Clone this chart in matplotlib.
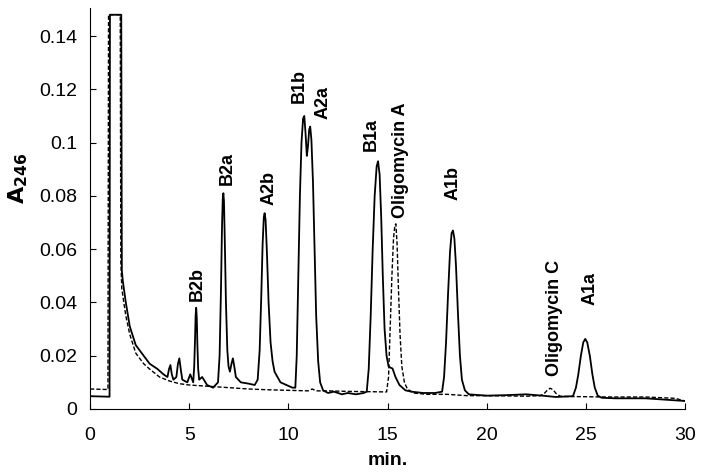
import matplotlib.pyplot as plt

plt.rcParams['font.family'] = ['Liberation Sans', 'DejaVu Sans']

# solid trace: sample chromatogram (time [min], A246)
t_solid = [0.0, 0.5, 0.98, 1.0, 1.57, 1.6, 1.65, 1.8, 2.0, 2.3, 2.7, 3.0, 3.4, 3.7, 3.9,
           3.98, 4.05, 4.12, 4.2, 4.35, 4.43, 4.5, 4.57, 4.65, 4.9, 5.05, 5.2,
           5.25, 5.29, 5.32, 5.35, 5.38, 5.41, 5.45, 5.5, 5.65, 5.9, 6.2, 6.45,
           6.53, 6.6, 6.65, 6.69, 6.72, 6.75, 6.79, 6.85, 6.92, 6.98, 7.05, 7.13, 7.2,
           7.27, 7.35, 7.6, 8.0, 8.3, 8.45,
           8.55, 8.63, 8.7, 8.76, 8.8, 8.85, 8.92, 9.0, 9.1, 9.2, 9.3, 9.45, 9.6, 9.9,
           10.2, 10.35, 10.42, 10.5, 10.58, 10.66, 10.74, 10.8, 10.86, 10.93, 10.98,
           11.05, 11.1, 11.16, 11.24, 11.32, 11.4, 11.5, 11.6, 11.75, 12.0, 12.3, 12.7,
           13.0, 13.4, 13.8, 13.95,
           14.05, 14.15, 14.25, 14.35, 14.45, 14.52, 14.6, 14.68, 14.76, 14.85, 14.95,
           15.05, 15.15, 15.25, 15.4, 15.6, 15.9, 16.2, 16.8, 17.4, 17.75,
           17.85, 17.95, 18.05, 18.15, 18.23, 18.3, 18.37, 18.45, 18.55, 18.65, 18.75,
           18.9, 19.1, 20.0, 21.0, 22.0, 22.8, 23.5, 24.35,
           24.5, 24.62, 24.75, 24.87, 24.97, 25.07, 25.2, 25.33, 25.45, 25.6, 25.8,
           26.5, 28.0, 29.0, 30.0]
a_solid = [0.0048, 0.0047, 0.0046, 0.148, 0.148, 0.052, 0.048, 0.040, 0.031, 0.024, 0.020,
           0.017, 0.015, 0.013, 0.012,
           0.015, 0.0165, 0.013, 0.011, 0.012, 0.017, 0.019, 0.015, 0.011, 0.010, 0.013,
           0.010,
           0.016, 0.026, 0.035, 0.038, 0.034, 0.024, 0.015, 0.011, 0.012, 0.009, 0.008,
           0.010,
           0.020, 0.045, 0.068, 0.079, 0.081, 0.078, 0.064, 0.040, 0.022, 0.016, 0.014,
           0.017, 0.019, 0.016, 0.012, 0.010, 0.0095, 0.009, 0.011,
           0.022, 0.042, 0.062, 0.072, 0.0735, 0.071, 0.058, 0.040, 0.025, 0.018, 0.014,
           0.012, 0.010, 0.009,
           0.008, 0.008, 0.020, 0.050, 0.080, 0.100, 0.109, 0.110, 0.104, 0.095, 0.098,
           0.105, 0.106, 0.101, 0.085, 0.060, 0.035, 0.018, 0.010, 0.007, 0.006, 0.0065,
           0.0055, 0.006, 0.0055, 0.006, 0.0065,
           0.015, 0.035, 0.060, 0.080, 0.091, 0.093, 0.088, 0.072, 0.050, 0.030, 0.020,
           0.016, 0.0155, 0.0152, 0.012, 0.009, 0.007, 0.0065, 0.006, 0.006, 0.0065,
           0.012, 0.025, 0.043, 0.059, 0.066, 0.067, 0.064, 0.054, 0.036, 0.020, 0.011,
           0.007, 0.0055, 0.005, 0.0052, 0.0055, 0.005, 0.0045, 0.0048,
           0.008, 0.013, 0.020, 0.025, 0.0263, 0.025, 0.020, 0.013, 0.008, 0.005, 0.0042,
           0.004, 0.004, 0.0035, 0.003]

# dashed trace: oligomycin standard
t_dash = [0.0, 0.9, 0.93, 1.52, 1.55, 1.6, 1.8, 2.0, 2.3, 2.7, 3.0, 3.5, 4.0, 4.5, 5.0,
          6.0, 7.0, 8.0, 9.0, 10.0, 11.0, 11.2, 11.4, 12.0, 13.0, 14.0, 14.95,
          15.05, 15.13, 15.22, 15.3, 15.37, 15.42, 15.48, 15.55, 15.63, 15.72, 15.85,
          16.0, 16.3, 17.0, 18.0, 19.0, 20.0, 22.0, 22.7,
          22.9, 23.05, 23.2, 23.35, 23.5, 23.7, 24.0, 26.0, 28.0, 29.5, 30.0]
a_dash = [0.0075, 0.0073, 0.148, 0.148, 0.055, 0.045, 0.035, 0.028, 0.021, 0.017, 0.015,
          0.012, 0.0105, 0.0095, 0.009, 0.0085, 0.008, 0.0075, 0.0072, 0.007, 0.0068,
          0.0075, 0.0068, 0.0068, 0.0066, 0.0065, 0.0064,
          0.012, 0.030, 0.050, 0.064, 0.069, 0.0695, 0.062, 0.045, 0.028, 0.016, 0.010,
          0.0075, 0.006, 0.0055, 0.0055, 0.005, 0.005, 0.0048, 0.005,
          0.0058, 0.007, 0.0078, 0.0072, 0.0058, 0.0048, 0.0047, 0.0045, 0.0045, 0.004,
          0.003]

# peak labels
peak_names = ['B2b', 'B2a', 'A2b', 'B1b', 'A2a', 'B1a', 'Oligomycin A', 'A1b',
              'Oligomycin C', 'A1a']
peak_x = [5.4, 6.9, 9.0, 10.55, 11.75, 14.2, 15.65, 18.3, 23.4, 25.2]
peak_y = [0.0405, 0.084, 0.0765, 0.1147, 0.109, 0.097, 0.0718, 0.0785, 0.0124, 0.039]

fig = plt.figure(figsize=(7.04, 4.75), dpi=100)
ax = fig.add_axes([0.128, 0.139, 0.845, 0.844])

ax.plot(t_solid, a_solid, color='black', linewidth=1.3)
ax.plot(t_dash, a_dash, color='black', linewidth=1.0, linestyle=(0, (3, 1.5)))

for name, x, y in zip(peak_names, peak_x, peak_y):
    ax.text(x, y, name, rotation=90, ha='center', va='bottom',
            fontsize=13, fontweight='bold')

ax.set_xlim(0, 30)
ax.set_ylim(0, 0.1505)
ax.set_xticks([0, 5, 10, 15, 20, 25, 30])
ax.set_yticks([0, 0.02, 0.04, 0.06, 0.08, 0.1, 0.12, 0.14])
ax.set_yticklabels(['0', '0.02', '0.04', '0.06', '0.08', '0.1', '0.12', '0.14'])
ax.tick_params(direction='in', labelsize=14, length=4)
ax.tick_params(axis='y', pad=9)
ax.tick_params(axis='x', pad=13)

ax.spines['top'].set_visible(False)
ax.spines['right'].set_visible(False)

ax.set_xlabel('min.', fontsize=14, fontweight='bold', labelpad=6)
ax.set_ylabel(r'$\mathbf{A_{246}}$', fontsize=16)
ax.yaxis.set_label_coords(-0.101, 0.574)

plt.savefig('out.png', dpi=100)
